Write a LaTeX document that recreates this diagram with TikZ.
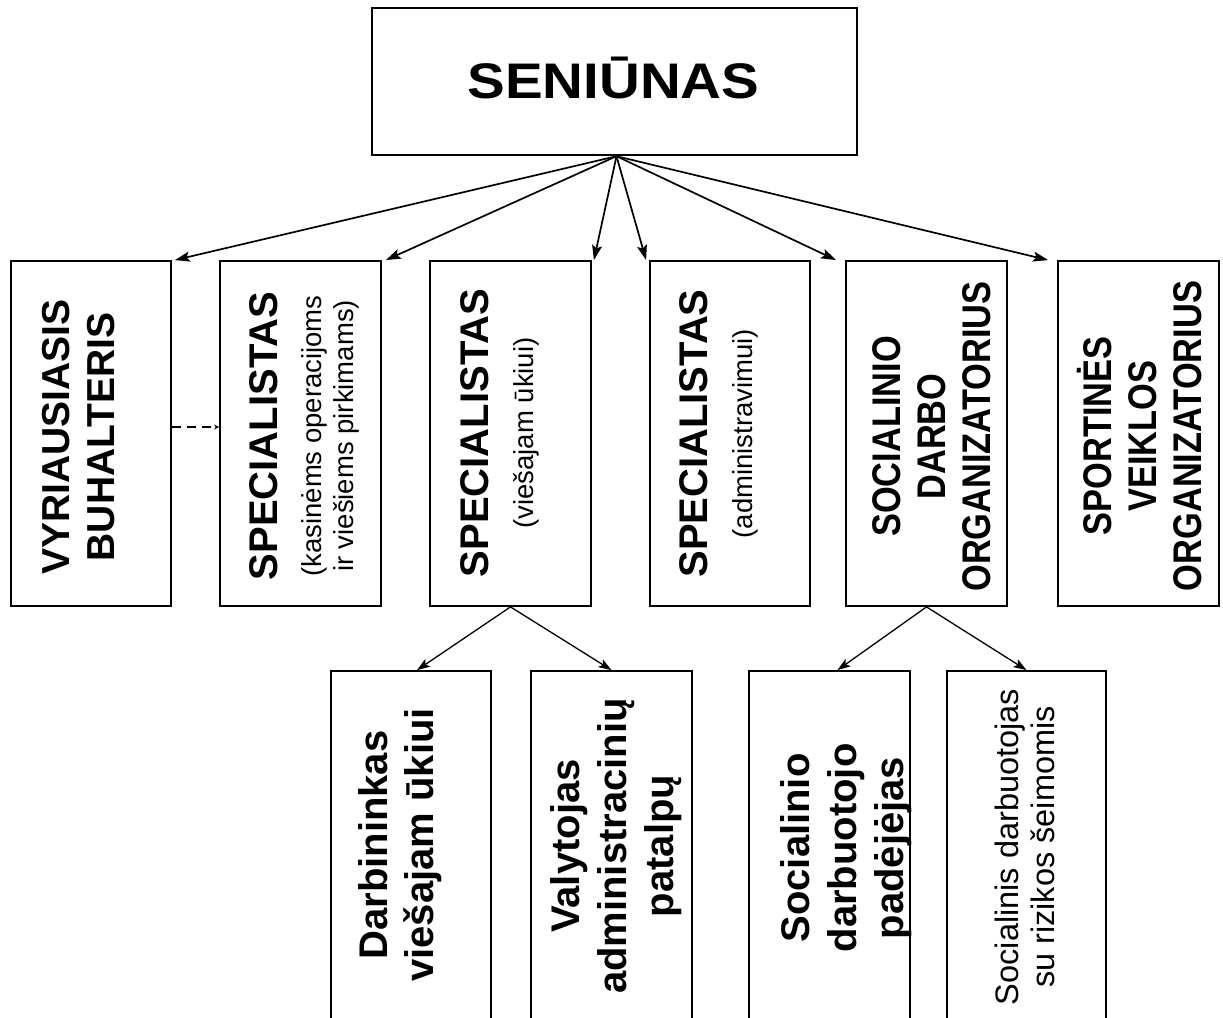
\documentclass[tikz,border=0pt]{standalone}
\usepackage{fontspec}
\setmainfont{Liberation Sans}
\newfontfamily\condfont[FakeStretch=0.86]{Liberation Sans}
\newfontfamily\widefont[FakeStretch=1.13]{Liberation Sans}
\usetikzlibrary{arrows.meta}
\begin{document}
\begin{tikzpicture}[x=1pt,y=-1pt,
  box/.style={draw, line width=1.8pt, inner sep=0pt},
  lbl/.style={inner sep=0pt, align=center, rotate=90},
  toparrow/.style={line width=1.7pt, -{Stealth[length=15pt,width=10pt,inset=3pt]}},
  subarrow/.style={line width=1.3pt, -{Stealth[length=13pt,width=9pt,inset=3pt]}},
  dasharrow/.style={line width=1.2pt, dash pattern=on 9pt off 6pt, -{Stealth[length=5pt,width=5pt]}},
  capsbig/.style={font=\bfseries\fontsize{39}{45}\selectfont},
  specfont/.style={font=\fontsize{27.5}{32}\selectfont},
  condbig/.style={font=\condfont\bfseries\fontsize{40}{45}\selectfont},
]
\useasboundingbox (0,0) rectangle (1223,1017);
\clip (0,0) rectangle (1223,1017);

% top box
\node[box, line width=2.4pt, minimum width=485pt, minimum height=147pt] (s) at (614.5,81.5) {};
\node[inner sep=0pt, anchor=base, font=\widefont\bfseries\fontsize{50}{60}\selectfont] (st) at (613.5,98) {SENIŪNAS};

% second row boxes
\node[box, minimum width=160pt, minimum height=345pt] (b1) at (91,433.5) {};
\node[box, minimum width=161pt, minimum height=345pt] (b2) at (300.5,433.5) {};
\node[box, minimum width=161pt, minimum height=345pt] (b3) at (510.5,433.5) {};
\node[box, minimum width=160pt, minimum height=345pt] (b4) at (730,433.5) {};
\node[box, minimum width=161pt, minimum height=345pt] (b5) at (926.5,433.5) {};
\node[box, minimum width=161pt, minimum height=345pt] (b6) at (1138.5,433.5) {};

\node[lbl, capsbig] (t1) at (79,437) {VYRIAUSIASIS\\BUHALTERIS};
\node[lbl, specfont] (t2) at (304.5,436) {\bfseries\fontsize{40}{32}\selectfont SPECIALISTAS\\[12pt](kasinėms operacijoms\\ir viešiems pirkimams)};
\node[lbl, specfont] (t3) at (499.5,433) {\bfseries\fontsize{40}{32}\selectfont SPECIALISTAS\\[13pt](viešajam ūkiui)};
\node[lbl, specfont] (t4) at (719,433.5) {\bfseries\fontsize{40}{32}\selectfont SPECIALISTAS\\[13pt](administravimui)};
\node[lbl, condbig] (t5) at (932,436.5) {SOCIALINIO\\DARBO\\ORGANIZATORIUS};
\node[lbl, condbig] (t6) at (1140,436) {SPORTINĖS\\VEIKLOS\\ORGANIZATORIUS};

% third row boxes
\node[box, minimum width=160pt, minimum height=350pt] (bA) at (411,846) {};
\node[box, minimum width=161pt, minimum height=350pt] (bB) at (611.5,846) {};
\node[box, minimum width=161pt, minimum height=350pt] (bC) at (829.5,846) {};
\node[box, minimum width=159pt, minimum height=350pt] (bD) at (1026.5,846) {};

\node[lbl, font=\bfseries\fontsize{40}{46}\selectfont] (tA) at (400.5,845) {Darbininkas\\viešajam ūkiui};
\node[lbl, font=\bfseries\fontsize{40}{47}\selectfont] (tB) at (616.5,846) {Valytojas\\administracinių\\patalpų};
\node[lbl, font=\bfseries\fontsize{40}{47}\selectfont] (tC) at (846,848) {Socialinio\\darbuotojo\\padėjėjas};
\node[lbl, font=\fontsize{32.5}{36}\selectfont] (tD) at (1024.5,847) {Socialinis darbuotojas\\su rizikos šeimomis};

% connectors
\draw[toparrow] ([xshift=2pt]s.south) -- ([xshift=3pt]b1.north east);
\draw[toparrow] ([xshift=2pt]s.south) -- ([xshift=4pt]b2.north east);
\draw[toparrow] ([xshift=2pt]s.south) -- ([xshift=2pt]b3.north east);
\draw[toparrow] ([xshift=2pt]s.south) -- ([xshift=-3pt]b4.north west);
\draw[toparrow] ([xshift=2pt]s.south) -- ([xshift=-9pt]b5.north west);
\draw[toparrow] ([xshift=2pt]s.south) -- ([xshift=-9pt]b6.north west);

\draw[dasharrow] ([yshift=6.5pt]b1.east) -- ([yshift=6.5pt]b2.west);

\draw[subarrow] (b3.south) -- ([xshift=6pt]bA.north);
\draw[subarrow] (b3.south) -- (bB.north);
\draw[subarrow] (b5.south) -- ([xshift=8pt]bC.north);
\draw[subarrow] (b5.south) -- (bD.north);
\end{tikzpicture}
\end{document}
